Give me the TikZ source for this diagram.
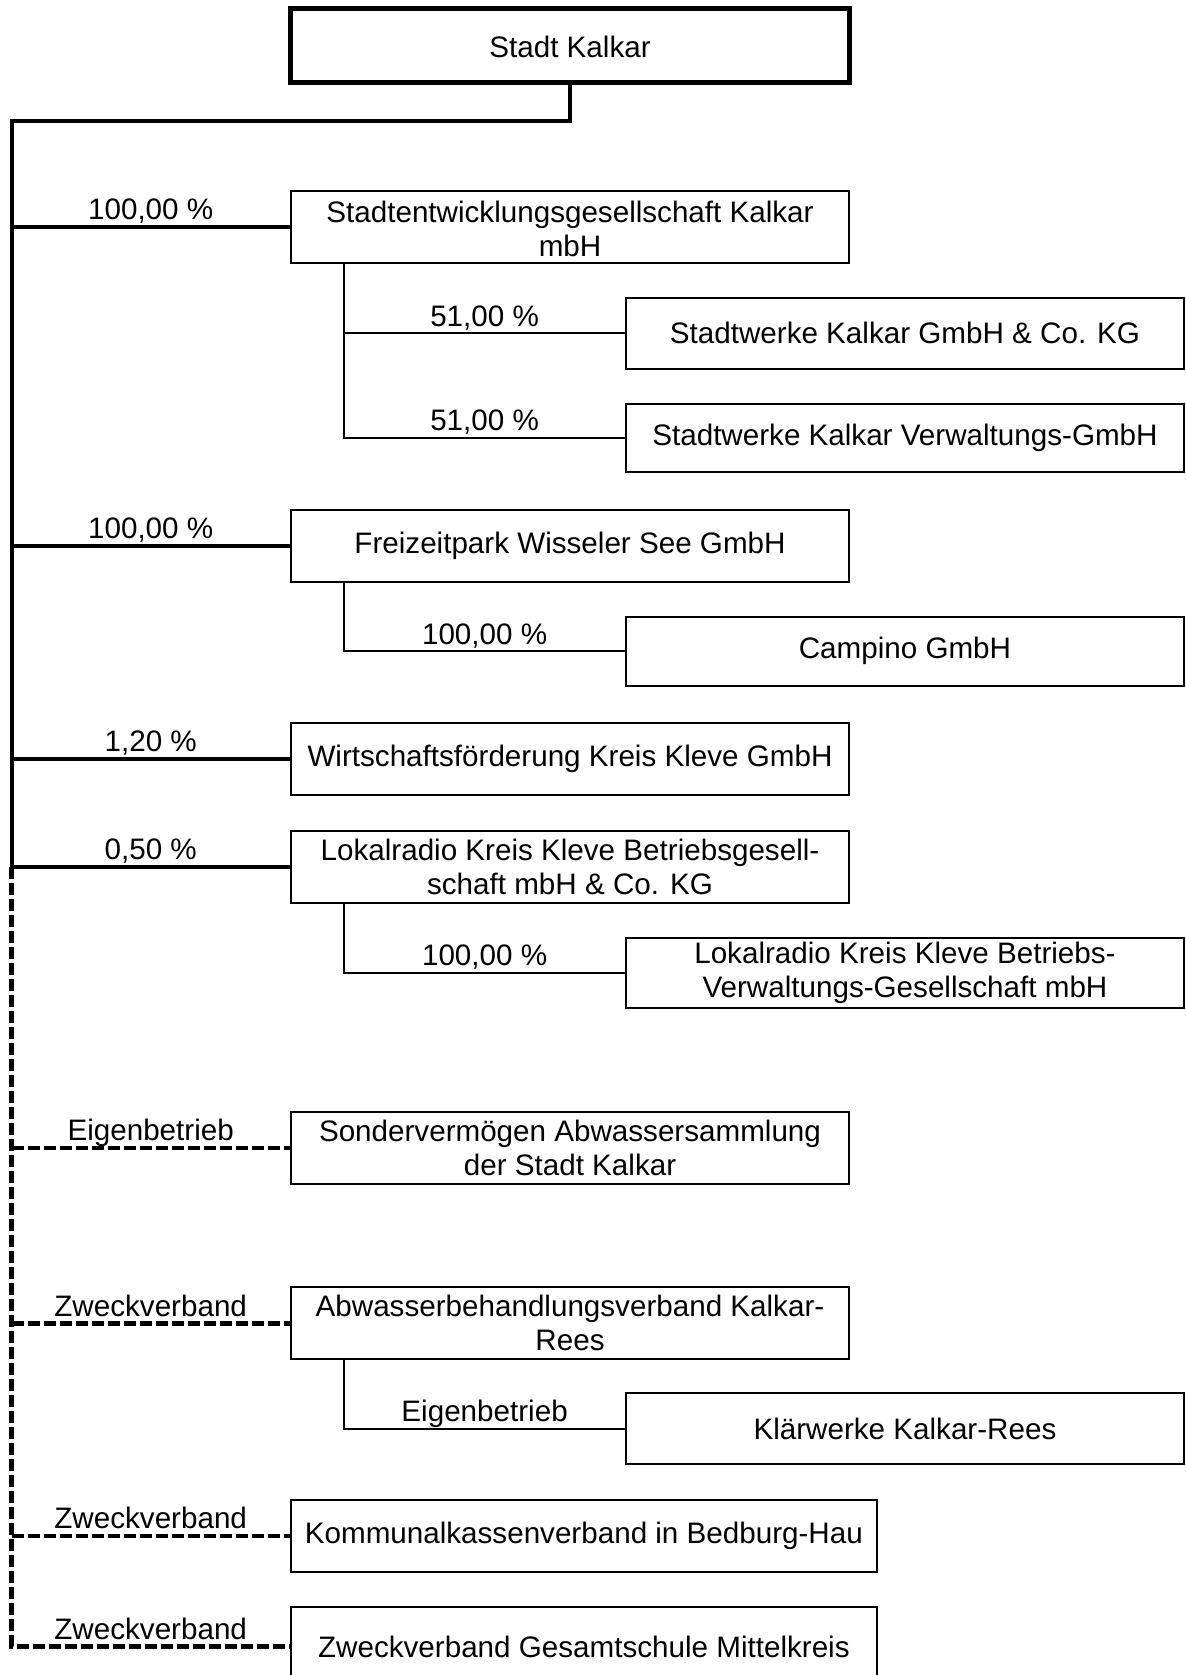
\documentclass[tikz,border=0pt]{standalone}
\usepackage{fontspec}
\setmainfont{Liberation Sans}
\usetikzlibrary{fit,calc}
\tikzset{
  orgbox/.style={draw, line width=1pt, inner sep=0pt},
  topbox/.style={orgbox, line width=2.5pt},
  boxtext/.style={align=center, inner sep=0pt, anchor=center, font=\fontsize{14.8}{17}\selectfont},
  thickline/.style={line width=2pt, line join=miter},
  dashline/.style={line width=2.3pt, dash pattern=on 6pt off 2pt, line join=miter},
  subline/.style={line width=1pt},
  lbl/.style={midway, anchor=base, yshift=3.6pt, inner sep=0pt, font=\fontsize{14.8}{17}\selectfont}
}
\begin{document}
\begin{tikzpicture}[x=0.534pt, y=-0.534pt]
\useasboundingbox (0,0) rectangle (1110,1567.7);
\fill[white] (0,0) rectangle (1110,1567.7);
\clip (0,0) rectangle (1110,1567.7);

% top box
\node[topbox, fit={(272,8) (795,77)}] (top) {};
\node[boxtext] (ttop) at ([yshift=-1pt]top.center) {Stadt Kalkar};

% level 1 boxes
\node[orgbox, fit={(272,179) (795,246)}] (b1) {};
\node[boxtext] (tb1) at ([yshift=-1pt]b1.center) {Stadtentwicklungsgesellschaft Kalkar\\mbH};
\node[orgbox, fit={(272,477) (795,545)}] (b2) {};
\node[boxtext] (tb2) at (b2.center) {Freizeitpark Wisseler See GmbH};
\node[orgbox, fit={(272,677) (795,744)}] (b3) {};
\node[boxtext] (tb3) at (b3.center) {Wirtschaftsförderung Kreis Kleve GmbH};
\node[orgbox, fit={(272,778) (795,845)}] (b4) {};
\node[boxtext] (tb4) at (b4.center) {Lokalradio Kreis Kleve Betriebsgesell-\\schaft mbH \& Co. KG};
\node[orgbox, fit={(272,1041) (795,1108)}] (b5) {};
\node[boxtext] (tb5) at (b5.center) {Sondervermögen Abwassersammlung\\der Stadt Kalkar};
\node[orgbox, fit={(272,1205) (795,1272)}] (b6) {};
\node[boxtext] (tb6) at (b6.center) {Abwasserbehandlungsverband Kalkar-\\Rees};
\node[orgbox, fit={(272,1404) (821,1471)}] (b7) {};
\node[boxtext] (tb7) at (b7.center) {Kommunalkassenverband in Bedburg-Hau};
\node[orgbox, fit={(272,1504) (821,1578)}] (b8) {};
\node[boxtext] (tb8) at (b8.center) {Zweckverband Gesamtschule Mittelkreis};

% level 2 boxes
\node[orgbox, fit={(586,279) (1108,345)}] (s1) {};
\node[boxtext] (ts1) at (s1.center) {Stadtwerke Kalkar GmbH \& Co. KG};
\node[orgbox, fit={(586,378) (1108,442)}] (s2) {};
\node[boxtext] (ts2) at (s2.center) {Stadtwerke Kalkar Verwaltungs-GmbH};
\node[orgbox, fit={(586,577) (1108,642)}] (s3) {};
\node[boxtext] (ts3) at (s3.center) {Campino GmbH};
\node[orgbox, fit={(586,878) (1108,943)}] (s4) {};
\node[boxtext] (ts4) at (s4.center) {Lokalradio Kreis Kleve Betriebs-\\Verwaltungs-Gesellschaft mbH};
\node[orgbox, fit={(586,1304) (1108,1370)}] (s5) {};
\node[boxtext] (ts5) at (s5.center) {Klärwerke Kalkar-Rees};

% spine
\coordinate (sp) at (11,113);
\draw[thickline] (top.south) |- (sp) -- (sp |- b4.west);
\draw[dashline] (sp |- b4.west) -- (sp |- b8.west) -- (b8.west);

% solid branches
\draw[thickline] (sp |- b1.west) -- node[lbl] {100,00 \%} (b1.west);
\draw[thickline] (sp |- b2.west) -- node[lbl] {100,00 \%} (b2.west);
\draw[thickline] (sp |- b3.west) -- node[lbl] {1,20 \%} (b3.west);
\draw[thickline] (sp |- b4.west) -- node[lbl] {0,50 \%} (b4.west);

% dashed branches
\draw[dashline] (sp |- b5.west) -- node[lbl] {Eigenbetrieb} (b5.west);
\draw[dashline] (sp |- b6.west) -- node[lbl] {Zweckverband} (b6.west);
\draw[dashline] (sp |- b7.west) -- node[lbl] {Zweckverband} (b7.west);
\path (sp |- b8.west) -- node[lbl] {Zweckverband} (b8.west);

% sub branches
\coordinate (k1) at ($(b1.south west)+(51,0)$);
\coordinate (k2) at ($(b2.south west)+(51,0)$);
\coordinate (k4) at ($(b4.south west)+(51,0)$);
\coordinate (k6) at ($(b6.south west)+(51,0)$);
\draw[subline] (k1) |- node[lbl, pos=0.75] {51,00 \%} (s1.west);
\draw[subline] (k1) |- node[lbl, pos=0.75] {51,00 \%} (s2.west);
\draw[subline] (k2) |- node[lbl, pos=0.75] {100,00 \%} (s3.west);
\draw[subline] (k4) |- node[lbl, pos=0.75] {100,00 \%} (s4.west);
\draw[subline] (k6) |- node[lbl, pos=0.75] {Eigenbetrieb} (s5.west);
\end{tikzpicture}
\end{document}
